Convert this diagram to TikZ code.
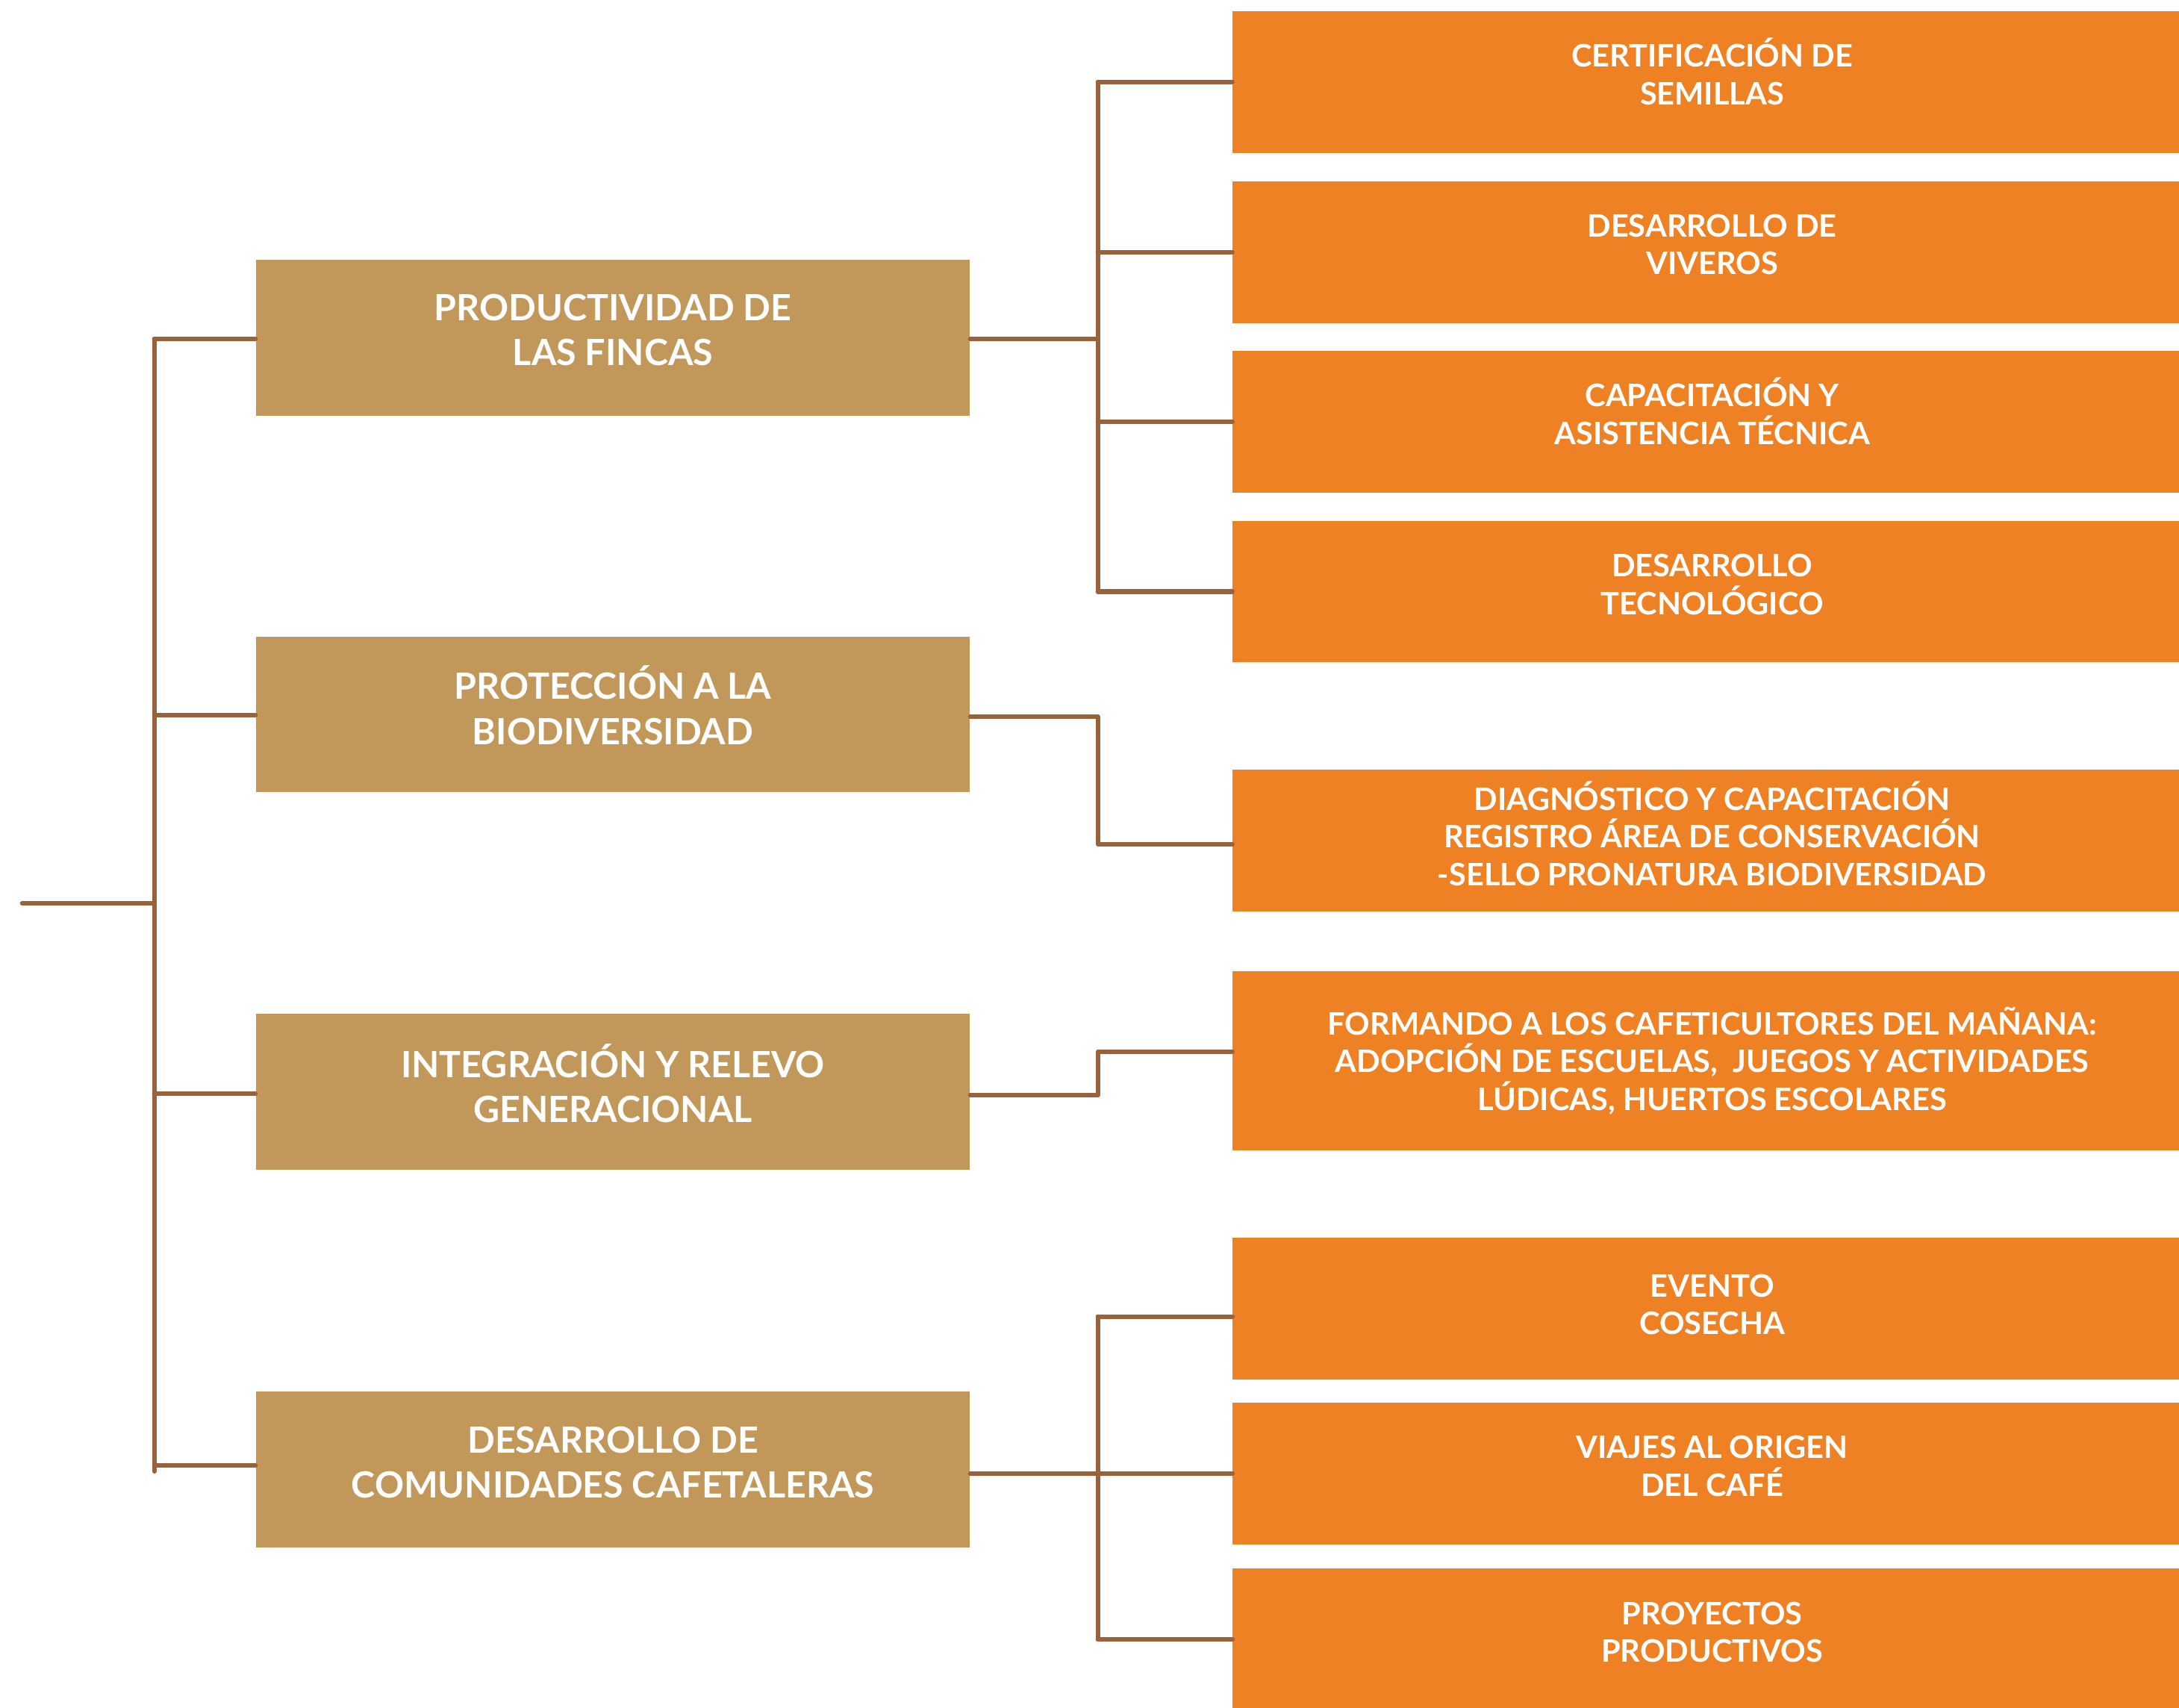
\documentclass[tikz,border=0pt]{standalone}
\usepackage{fontspec}
\setmainfont{Lato}[UprightFont=* Bold]
\definecolor{tanbox}{RGB}{193,151,90}
\definecolor{orgbox}{RGB}{238,129,35}
\definecolor{conncol}{RGB}{154,98,58}
\begin{document}
\begin{tikzpicture}[x=1pt,y=-1pt,
  leftbox/.style={fill=tanbox,draw=none,minimum width=514pt,minimum height=112pt,inner sep=0pt},
  rightbox/.style={fill=orgbox,draw=none,minimum width=690pt,minimum height=102pt,inner sep=0pt},
  lefttext/.style={text=white,align=center,inner sep=0pt,font=\fontsize{26}{32.4}\selectfont},
  righttext/.style={text=white,align=center,inner sep=0pt,font=\fontsize{22.3}{27.1}\selectfont},
  conn/.style={draw=conncol,line width=3.3pt,line cap=round,line join=round}]
\useasboundingbox (0,0) rectangle (1568,1229);
% left boxes
\node[leftbox] (p1) at (441,243) {};
\node[leftbox] (p2) at (441,514) {};
\node[leftbox] (p3) at (441,785.5) {};
\node[leftbox] (p4) at (441,1057.4) {};
\node[lefttext] (p1t) at ([yshift=5.5pt]p1.center) {PRODUCTIVIDAD DE\\LAS FINCAS};
\node[lefttext] (p2t) at ([yshift=6.5pt]p2.center) {PROTECCIÓN A LA\\BIODIVERSIDAD};
\node[lefttext] (p3t) at ([yshift=6pt]p3.center) {INTEGRACIÓN Y RELEVO\\GENERACIONAL};
\node[lefttext] (p4t) at ([yshift=5pt]p4.center) {DESARROLLO DE\\COMUNIDADES CAFETALERAS};
% right boxes
\node[rightbox] (b1) at (1232,59) {};
\node[rightbox] (b2) at (1232,181.5) {};
\node[rightbox] (b3) at (1232,303.5) {};
\node[rightbox] (b4) at (1232,425.7) {};
\node[rightbox] (b5) at (1232,604.8) {};
\node[rightbox,minimum height=128.7pt] (b6) at (1232,763.4) {};
\node[rightbox] (b7) at (1232,941.6) {};
\node[rightbox] (b8) at (1232,1060.4) {};
\node[rightbox] (b9) at (1232,1179.6) {};
\node[righttext] (b1t) at ([yshift=7.5pt]b1.center) {CERTIFICACIÓN DE\\SEMILLAS};
\node[righttext] (b2t) at ([yshift=5.5pt]b2.center) {DESARROLLO DE\\VIVEROS};
\node[righttext] (b3t) at ([yshift=7.5pt]b3.center) {CAPACITACIÓN Y\\ASISTENCIA TÉCNICA};
\node[righttext] (b4t) at ([yshift=5pt]b4.center) {DESARROLLO\\TECNOLÓGICO};
\node[righttext] (b5t) at ([yshift=5pt]b5.center) {DIAGNÓSTICO Y CAPACITACIÓN\\REGISTRO ÁREA DE CONSERVACIÓN\\-SELLO PRONATURA BIODIVERSIDAD};
\node[righttext] (b6t) at ([yshift=0pt]b6.center) {FORMANDO A LOS CAFETICULTORES DEL MAÑANA:\\ADOPCIÓN DE ESCUELAS,\ \ JUEGOS Y ACTIVIDADES\\LÚDICAS, HUERTOS ESCOLARES};
\node[righttext] (b7t) at ([yshift=3pt]b7.center) {EVENTO\\COSECHA};
\node[righttext] (b8t) at ([yshift=5.5pt]b8.center) {VIAJES AL ORIGEN\\DEL CAFÉ};
\node[righttext] (b9t) at ([yshift=5pt]b9.center) {PROYECTOS\\PRODUCTIVOS};
% coordinates
\coordinate (start) at (16,650);
\coordinate (tx) at (111,650);
\coordinate (bx) at (790,0);
% root and trunk
\draw[conn] (start) -- (tx);
\draw[conn] ([yshift=-0.9pt]p1.west -| tx) -- ([yshift=-1.3pt]p4.west -| tx);
\draw[conn] ([yshift=-0.9pt]p1.west) -- ([yshift=-0.9pt]p1.west -| tx);
\draw[conn] ([yshift=-0.6pt]p2.west) -- ([yshift=-0.6pt]p2.west -| tx);
\draw[conn] ([yshift=-1.5pt]p3.west) -- ([yshift=-1.5pt]p3.west -| tx);
\draw[conn] ([yshift=2.8pt]p4.west) -- ([yshift=2.8pt]p4.west -| tx);
% group 1
\draw[conn] ([yshift=-0.9pt]p1.east) -- ([yshift=-0.9pt]p1.east -| bx);
\draw[conn] (b1.west -| bx) -- (b4.west -| bx);
\draw[conn] (b1.west -| bx) -- (b1.west);
\draw[conn] (b2.west -| bx) -- (b2.west);
\draw[conn] (b3.west -| bx) -- (b3.west);
\draw[conn] (b4.west -| bx) -- (b4.west);
% group 2
\draw[conn] ([yshift=-1.8pt]p2.east) -| ([yshift=-2.8pt]b5.west -| bx) -- ([yshift=-2.8pt]b5.west);
% group 3
\draw[conn] ([yshift=-2.5pt]p3.east) -| ([yshift=6.7pt]b6.west -| bx) -- ([yshift=6.7pt]b6.west);
% group 4
\draw[conn] ([yshift=-3.1pt]p4.east) -- ([yshift=-3.1pt]p4.east -| bx);
\draw[conn] ([yshift=-5.8pt]b7.west -| bx) -- (b9.west -| bx);
\draw[conn] ([yshift=-5.8pt]b7.west -| bx) -- ([yshift=-5.8pt]b7.west);
\draw[conn] (b8.west -| bx) -- (b8.west);
\draw[conn] (b9.west -| bx) -- (b9.west);
\end{tikzpicture}
\end{document}
